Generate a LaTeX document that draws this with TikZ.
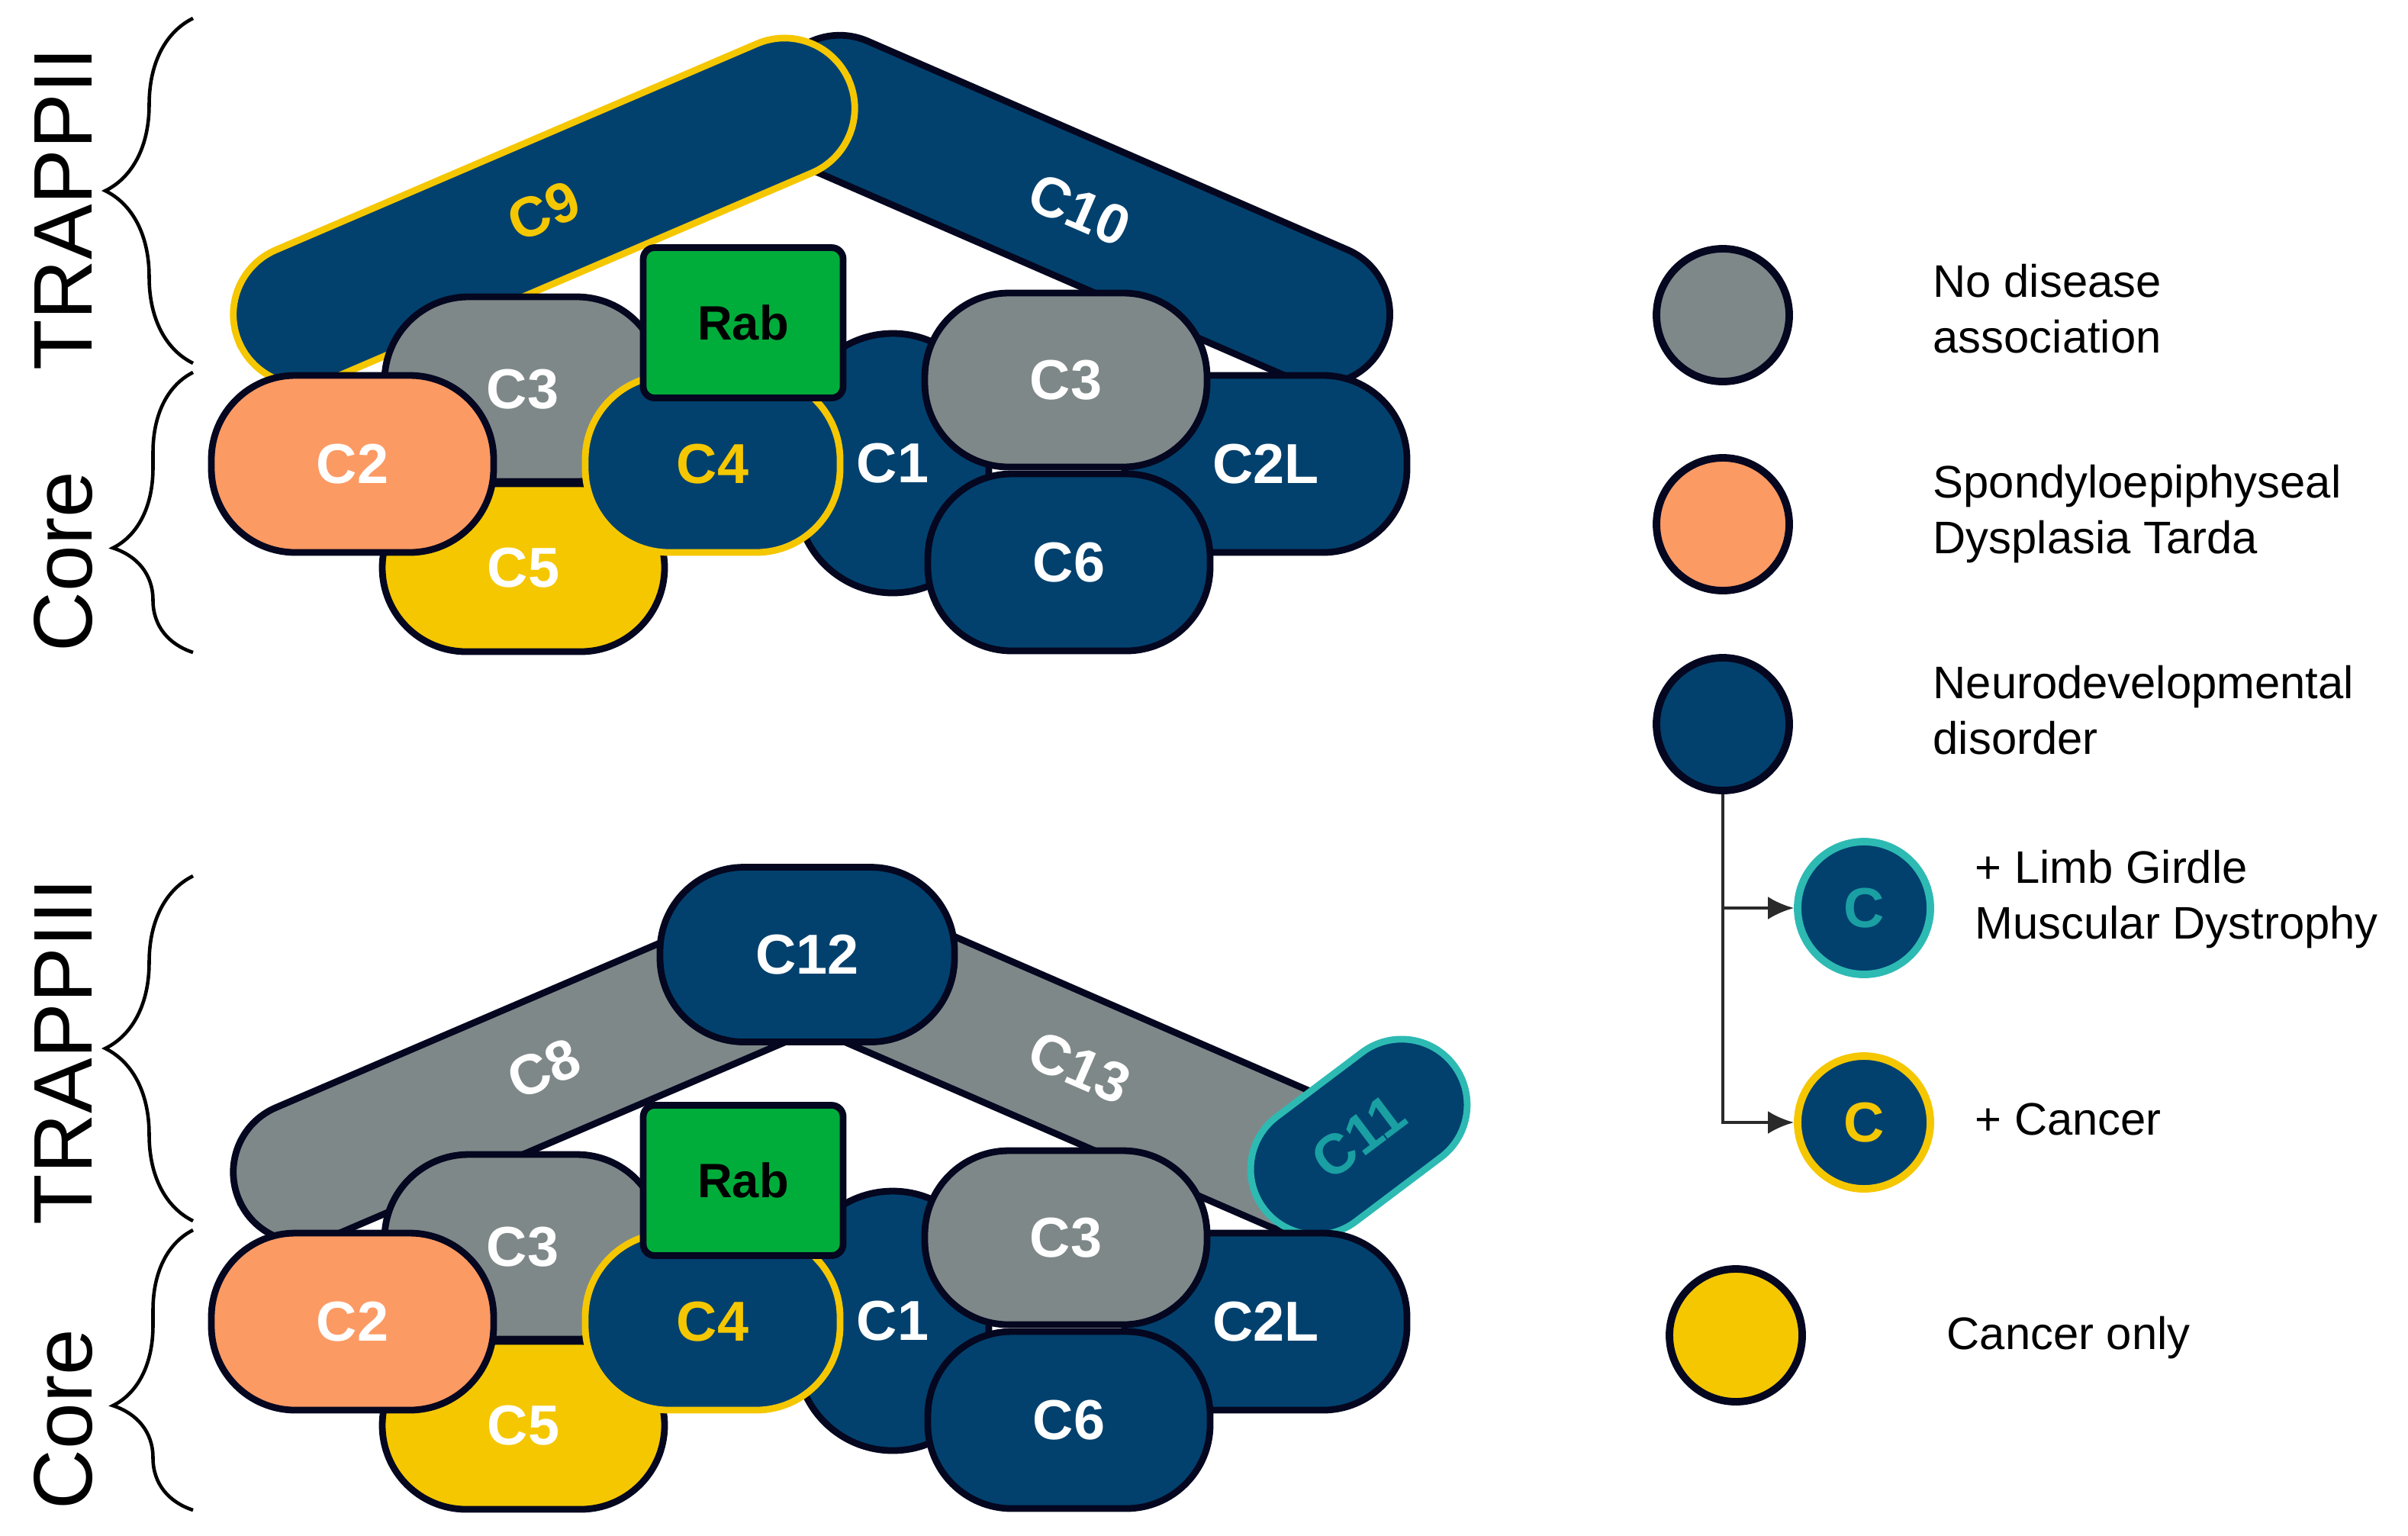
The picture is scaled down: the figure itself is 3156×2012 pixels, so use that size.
\documentclass[tikz,border=0pt]{standalone}
\usepackage{fontspec}
\setmainfont{Liberation Sans}
\usetikzlibrary{positioning, arrows.meta, decorations.pathreplacing}

\definecolor{navy}{HTML}{02416E}
\definecolor{slate}{HTML}{7F8889}
\definecolor{salmon}{HTML}{FC9A64}
\definecolor{mustard}{HTML}{F5C700}
\definecolor{rabgreen}{HTML}{00AD3B}
\definecolor{lgmdteal}{HTML}{2DBAB3}
\definecolor{lgmdtext}{HTML}{1A9FA3}
\definecolor{edge}{HTML}{04071F}
\definecolor{arrowgrey}{HTML}{2A2A2A}

\tikzset{
  subunit/.style = {shape = rectangle, draw = edge, line width = 2.5pt, rounded corners = 11mm, inner sep = 0pt, minimum width = 37mm, minimum height = 23.2mm, text = white, font = \fontsize{21}{25}\selectfont\bfseries},
  arm/.style = {subunit, minimum width = 87mm, minimum height = 18.4mm, rounded corners = 9.2mm},
  rab/.style = {subunit, fill = rabgreen, rounded corners = 1.5mm, minimum width = 26.2mm, minimum height = 19.7mm, text = black, font = \fontsize{18}{22}\selectfont\bfseries},
  keydot/.style = {shape = circle, draw = edge, line width = 2.8pt, minimum size = 17.4mm, inner sep = 0pt, font = \fontsize{21}{25}\selectfont\bfseries},
  keytext/.style = {anchor = north west, align = left, inner sep = 0pt, font = \fontsize{17}{21}\selectfont},
  sidelabel/.style = {rotate = 90, inner sep = 0pt, font = \fontsize{31}{37}\selectfont},
  curly/.style = {decorate, decoration = {brace, amplitude = 11.5mm}, line width = 1.3pt},
}

\begin{document}
\begin{tikzpicture}[x = 0.1mm, y = -0.1mm]
    \useasboundingbox (0, 0) rectangle (3156, 2012);

    % side labels
    \node [sidelabel] (trappii) at (83, 274) {TRAPPII};
    \node [sidelabel] (core-ii) at (83, 736) {Core};
    \node [sidelabel] (trappiii) at (83, 1378) {TRAPPIII};
    \node [sidelabel] (core-iii) at (83, 1860) {Core};
    \draw [curly] (253, 476) -- (253, 24);
    \draw [curly, decoration = {aspect = 0.373, amplitude = 10.5mm}] (253, 855) -- (253, 488);
    \draw [curly] (253, 1600) -- (253, 1148);
    \draw [curly, decoration = {aspect = 0.373, amplitude = 10.5mm}] (253, 1979) -- (253, 1612);

    % TRAPPII
    \node [arm, fill = navy, rotate = -23.5] (C10) at (1415, 275) {C10};
    \node [arm, fill = navy, draw = mustard, text = mustard, rotate = 23.2] (C9) at (713, 277) {C9};
    \node [subunit, fill = navy, minimum width = 25.2mm, minimum height = 34mm, rounded corners = 12.6mm] (C1-II) at (1170, 607) {C1};
    \node [subunit, fill = navy] (C2L-II) at (1659, 608) {C2L};
    \node [subunit, fill = slate, minimum height = 22.8mm] (C3r-II) at (1397, 498) {C3};
    \node [subunit, fill = navy] (C6-II) at (1401, 737) {C6};
    \node [subunit, fill = slate, minimum width = 36.2mm, minimum height = 24.2mm] (C3l-II) at (685, 510) {C3};
    \node [subunit, fill = mustard, minimum height = 22mm] (C5-II) at (686, 744) {C5};
    \node [subunit, fill = salmon] (C2-II) at (462, 608) {C2};
    \node [subunit, fill = navy, draw = mustard, text = mustard, minimum width = 33.4mm] (C4-II) at (934, 608) {C4};
    \node [rab] (Rab-II) at (974, 423) {Rab};

    % TRAPPIII
    \node [arm, fill = slate, rotate = -23.5, minimum width = 80.2mm] (C13) at (1415, 1399) {C13};
    \node [arm, fill = slate, rotate = 23.2] (C8) at (713, 1401) {C8};
    \node [subunit, fill = navy, minimum width = 38.6mm, minimum height = 22.9mm] (C12) at (1058, 1251) {C12};
    \node [subunit, fill = navy, draw = lgmdteal, text = lgmdtext, minimum width = 31.2mm, minimum height = 17.2mm, rounded corners = 8.6mm, rotate = 37] (C11) at (1781, 1490) {C11};
    \node [subunit, fill = navy, minimum width = 25.2mm, minimum height = 34mm, rounded corners = 12.6mm] (C1-III) at (1170, 1731) {C1};
    \node [subunit, fill = navy] (C2L-III) at (1659, 1732) {C2L};
    \node [subunit, fill = slate, minimum height = 22.8mm] (C3r-III) at (1397, 1622) {C3};
    \node [subunit, fill = navy] (C6-III) at (1401, 1861) {C6};
    \node [subunit, fill = slate, minimum width = 36.2mm, minimum height = 24.2mm] (C3l-III) at (685, 1634) {C3};
    \node [subunit, fill = mustard, minimum height = 22mm] (C5-III) at (686, 1868) {C5};
    \node [subunit, fill = salmon] (C2-III) at (462, 1732) {C2};
    \node [subunit, fill = navy, draw = mustard, text = mustard, minimum width = 33.4mm] (C4-III) at (934, 1732) {C4};
    \node [rab] (Rab-III) at (974, 1547) {Rab};

    % legend
    \node [keydot, fill = slate] (none) at (2258, 413) {};
    \node [keydot, fill = salmon] (sedt) at (2258, 687) {};
    \node [keydot, fill = navy] (ndd) at (2258, 949) {};
    \node [keydot, fill = navy, draw = lgmdteal, text = lgmdtext] (lgmd) at (2443, 1190) {C};
    \node [keydot, fill = navy, draw = mustard, text = mustard] (cancer) at (2443, 1471) {C};
    \node [keydot, fill = mustard] (only) at (2275, 1750) {};

    \node [keytext] (none-text) at (2533, 345) {No disease\\association};
    \node [keytext] (sedt-text) at (2533, 608) {Spondyloepiphyseal\\Dysplasia Tarda};
    \node [keytext] (ndd-text) at (2533, 871) {Neurodevelopmental\\disorder};
    \node [keytext] (lgmd-text) at (2588, 1113) {+ Limb Girdle\\Muscular Dystrophy};
    \node [keytext] (cancer-text) at (2588, 1445) {+ Cancer};
    \node [keytext] (only-text) at (2551, 1724) {Cancer only};

    \draw [-{Latex[length = 3.4mm, width = 3mm]}, line width = 1.2pt, arrowgrey] (ndd.south) |- (lgmd.west);
    \draw [-{Latex[length = 3.4mm, width = 3mm]}, line width = 1.2pt, arrowgrey] (ndd.south) |- (cancer.west);
\end{tikzpicture}
\end{document}
